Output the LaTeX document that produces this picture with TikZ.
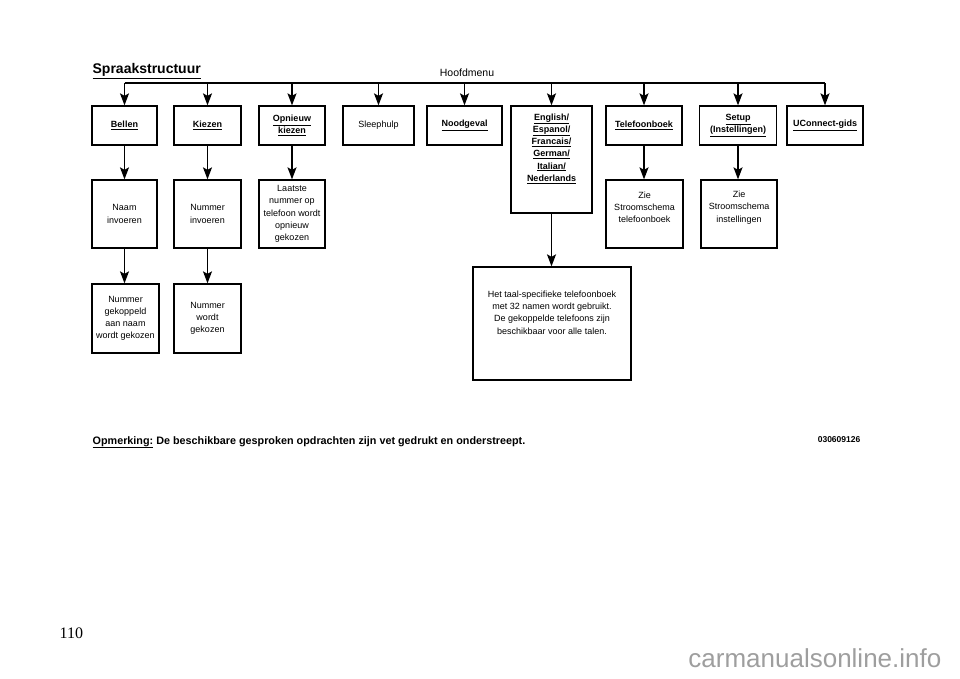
\documentclass[tikz,border=0pt]{standalone}
\usepackage{fontspec}
\setmainfont{Liberation Sans}
\newfontfamily\pagefont{Liberation Serif}
\usetikzlibrary{arrows.meta, positioning}
\newcommand{\vb}[1]{\underline{\textbf{#1}}}

\begin{document}
\begin{tikzpicture}[x=1pt,y=-1pt,line width=1.3pt]
    \tikzstyle{arr}=[-{Stealth[length=12pt,width=9pt,inset=2.5pt]}]
    \tikzstyle{box}=[draw=black, line width=1.3pt, inner sep=0pt, align=center, font=\fontsize{9}{12.2}\selectfont]
    \tikzstyle{menu}=[box, minimum height=39pt]
    \tikzstyle{sub}=[box, minimum height=68pt]
    \tikzstyle{lab}=[align=center, font=\fontsize{9}{12.2}\selectfont]
    \tikzstyle{txt}=[inner sep=0pt]

    \useasboundingbox (0,0) rectangle (960,678);

    \node[txt, anchor=base west, font=\fontsize{14}{14}\selectfont] (title) at (92,73.5) {\vb{Spraakstructuur}};
    \node[txt, anchor=base, font=\fontsize{10.5}{12}\selectfont] (hm) at (467,76.5) {Hoofdmenu};
    \coordinate (hl) at (0,83);

    % hoofdmenu
    \node[menu, minimum width=65pt] (M-1) at (124.5,125.5) {\vb{Bellen}};
    \node[menu, minimum width=67pt] (M-2) at (207.5,125.5) {\vb{Kiezen}};
    \node[menu, minimum width=66pt] (M-3) at (292,125.5) {\vb{Opnieuw}\\\vb{kiezen}};
    \node[menu, minimum width=71pt] (M-4) at (378.5,125.5) {Sleephulp};
    \node[menu, minimum width=75pt] (M-5) at (464.5,125.5) {\vb{Noodgeval}};
    \node[menu, minimum width=81pt, minimum height=107pt,
          label={[lab, yshift=11pt]center:{\vb{English/}\\\vb{Espanol/}\\\vb{Francais/}\\\vb{German/}\\\vb{Italian/}\\\vb{Nederlands}}}] (M-6) at (551.5,159.5) {};
    \node[menu, minimum width=76pt] (M-7) at (644,125.5) {\vb{Telefoonboek}};
    \node[menu, minimum width=77pt] (M-8) at (738,125.5) {\vb{Setup}\\\vb{(Instellingen)}};
    \node[menu, minimum width=76pt] (M-9) at (825,125.5) {\vb{UConnect-gids}};

    \draw (M-1.north |- hl) -- (M-9.north |- hl);
    \foreach \i in {1,...,9}
        \draw[arr] (M-\i.north |- hl) -- (M-\i.north);

    % tweede rij
    \node[sub, minimum width=65pt] (S-1) at (124.5,214) {Naam\\invoeren};
    \node[sub, minimum width=67pt] (S-2) at (207.5,214) {Nummer\\invoeren};
    \node[sub, minimum width=66pt] (S-3) at (292,214) {Laatste\\nummer op\\telefoon wordt\\opnieuw\\gekozen};
    \node[sub, minimum width=77pt,
          label={[lab, yshift=6.5pt]center:{Zie\\Stroomschema\\telefoonboek}}] (S-7) at (644.5,214) {};
    \node[sub, minimum width=76pt,
          label={[lab, yshift=6.5pt]center:{Zie\\Stroomschema\\instellingen}}] (S-8) at (739,214) {};

    \foreach \i in {1,2,3,7,8}
        \draw[arr] (M-\i.south) -- (M-\i.south |- S-\i.north);

    % derde rij
    \node[box, minimum width=67pt, minimum height=69pt] (T-1) at (125.5,318.5) {Nummer\\gekoppeld\\aan naam\\wordt gekozen};
    \node[box, minimum width=67pt, minimum height=69pt] (T-2) at (207.5,318.5) {Nummer\\wordt\\gekozen};
    \node[box, minimum width=158pt, minimum height=113pt,
          label={[lab, yshift=11pt]center:{Het taal-specifieke telefoonboek\\met 32 namen wordt gebruikt.\\De gekoppelde telefoons zijn\\beschikbaar voor alle talen.}}] (Taal) at (552,323.5) {};

    \draw[arr] (S-1.south) -- (S-1.south |- T-1.north);
    \draw[arr] (S-2.south) -- (S-2.south |- T-2.north);
    \draw[arr] (M-6.south) -- (M-6.south |- Taal.north);

    \node[txt, anchor=base west, font=\fontsize{10.8}{12}\selectfont\bfseries] (note) at (92,444) {\underline{Opmerking:} De beschikbare gesproken opdrachten zijn vet gedrukt en onderstreept.};
    \node[txt, anchor=base east, font=\fontsize{8.5}{8.5}\selectfont\bfseries] (code) at (861,442) {030609126};
    \node[txt, anchor=base west, font=\pagefont\fontsize{16}{16}\selectfont] (page) at (59,638) {110};
    \node[txt, anchor=base east, text=black!38, font=\fontsize{26}{26}\selectfont] (wm) at (942,667) {carmanualsonline.info};
\end{tikzpicture}
\end{document}
